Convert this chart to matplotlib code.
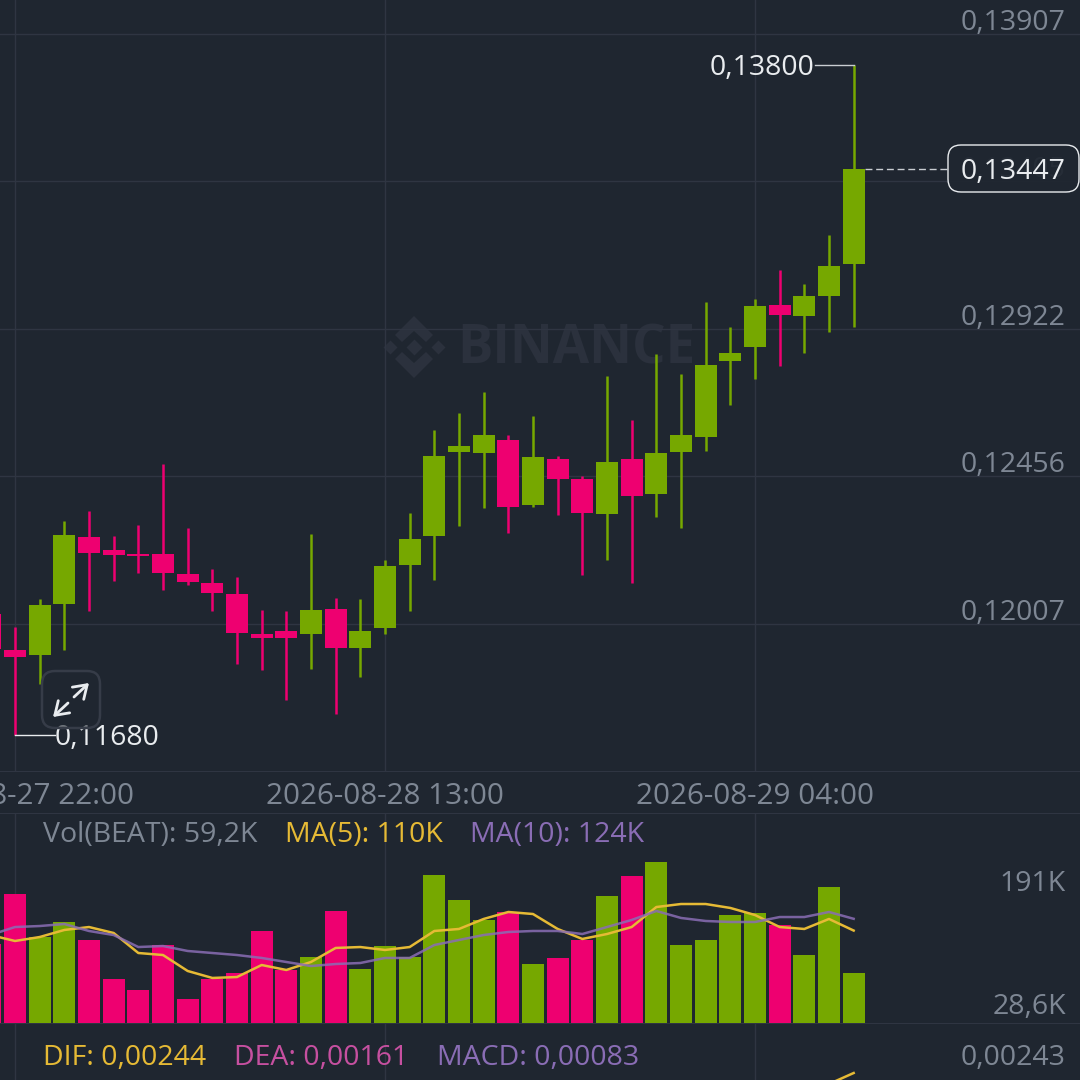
import numpy as np
import matplotlib
matplotlib.use("Agg")
import matplotlib.pyplot as plt
from matplotlib.patches import FancyBboxPatch

plt.rcParams['font.family'] = ['Open Sans', 'DejaVu Sans']

# hourly candles, index 0 is 2026-08-27 22:00 (first one is cut off by the left edge)
hours = np.arange(-1, 35)
open_ = [.12037, .11929, .11914, .12067, .12268, .12231, .12216, .12216, .12158, .12131, .12097, .11977, .11986,
         .11977, .12052, .11935, .11995, .12185, .12271, .12531, .12528, .12569, .12366, .12509, .12447, .12339,
         .12509, .12400, .12531, .12578, .12820, .12865, .13000, .12964, .13029, .13131]
high = [.12037, .11998, .12082, .12317, .12348, .12271, .12305, .12494, .12296, .12173, .12149, .12049, .12046,
        .12277, .12085, .12082, .12200, .12342, .12600, .12654, .12721, .12584, .12644, .12518, .12456, .12772,
        .12632, .12842, .12778, .13009, .12929, .13019, .13114, .13068, .13226, .13800]
low = [.11932, .11680, .11828, .11929, .12046, .12137, .12161, .12109, .12125, .12046, .11888, .11870, .11781,
       .11873, .11740, .11849, .11977, .12046, .12140, .12304, .12357, .12283, .12360, .12336, .12155, .12198,
       .12131, .12330, .12296, .12534, .12679, .12762, .12804, .12845, .12913, .12929]
close = [.11932, .11908, .12064, .12274, .12219, .12213, .12210, .12161, .12134, .12100, .11980, .11965, .11965,
         .12049, .11935, .11986, .12182, .12262, .12518, .12550, .12584, .12360, .12515, .12447, .12342, .12500,
         .12394, .12528, .12584, .12807, .12845, .12996, .12965, .13029, .13124, .13447]

# volume in thousands
volume = [94.0, 153.5, 102.3, 120.2, 98.8, 52.4, 39.3, 92.8, 28.6, 52.4, 59.5, 109.5, 63.1, 78.5, 133.3, 64.3,
          91.6, 78.5, 176.1, 146.4, 122.6, 132.1, 70.2, 77.4, 98.8, 151.1, 174.9, 191.0, 92.8, 98.8, 128.5, 130.9,
          116.6, 80.9, 161.8, 59.2]
ma5 = [104.7, 97.6, 102.3, 110.7, 114.2, 107.1, 83.3, 80.9, 61.9, 53.6, 54.7, 69.0, 63.1, 72.6, 89.3, 90.4, 86.9,
       90.4, 109.5, 111.9, 123.8, 132.1, 129.7, 111.9, 100.0, 105.9, 114.2, 138.0, 141.6, 141.6, 136.9, 128.5,
       114.2, 111.9, 123.8, 110.0]
ma10 = [104.7, 114.2, 115.4, 117.8, 109.5, 104.7, 90.4, 91.6, 85.7, 83.3, 80.9, 77.4, 72.6, 67.8, 70.2, 71.4, 77.4,
        77.4, 92.8, 98.8, 104.7, 108.3, 109.5, 109.5, 105.9, 114.2, 122.6, 133.3, 125.0, 121.4, 120.2, 120.2,
        126.1, 126.1, 132.1, 124.0]

# only the last bit of the DIF line is on screen
dif_hours = [33, 34]
dif = [.00233, .00244]

price_ticks = [.13907, .13405, .12922, .12456, .12007]
price_labels = ['0,13907', '0,13405', '0,12922', '0,12456', '0,12007']
time_ticks = [0, 15, 30]
time_labels = ['2026-08-27 22:00', '2026-08-28 13:00', '2026-08-29 04:00']

BG = '#1F2630'
GRID = '#2F3542'
WATERMARK = '#2B313D'
UP = '#76A800'
DOWN = '#EE0070'
YELLOW = '#E6BA35'
PURPLE = '#8A6DB5'
MAGENTA = '#C650A0'
GRAY = '#7E8794'
WHITE = '#E9ECEF'
FONT = 20.5

STEP = 370 / 15  # px per candle
x_lim = (-15 / STEP, (1080 - 15) / STEP)
x = np.array(hours)
up = np.array(close) >= np.array(open_)
colors = [UP if u else DOWN for u in up]

fig = plt.figure(figsize=(10.8, 10.8), dpi=100, facecolor=BG)

# background layer for the watermark
bg = fig.add_axes([0, 0, 1, 1], zorder=0)
bg.set_xlim(0, 1080)
bg.set_ylim(1080, 0)
bg.axis('off')
bg.text(457, 350, 'BINANCE', color=WATERMARK, fontsize=38, fontweight='bold', ha='left', va='center')
# logo: three diamonds and two chevrons
bg.scatter([414], [347], marker='D', s=66, color=WATERMARK, lw=0)
bg.scatter([390, 438], [347, 347], marker='D', s=51, color=WATERMARK, lw=0)
bg.fill([414, 433, 426, 414, 402, 395], [316, 335, 342, 331, 342, 335], color=WATERMARK, lw=0)
bg.fill([414, 433, 426, 414, 402, 395], [378, 359, 352, 363, 352, 359], color=WATERMARK, lw=0)

# main candle panel, log scale
ax = fig.add_axes([0, 1 - 771 / 1080, 1, 771 / 1080], zorder=1, facecolor='none')
ax.set_yscale('log')
ax.set_xlim(x_lim)
ax.set_ylim(.11575, .14024)
ax.vlines(x, low, high, colors=colors, lw=1.8, zorder=3)
ax.bar(x, np.abs(np.array(close) - np.array(open_)), bottom=np.minimum(open_, close), width=0.89, color=colors,
       zorder=4)
ax.set_yticks(price_ticks)
ax.minorticks_off()
ax.set_yticklabels([])
ax.set_xticks(time_ticks)
ax.set_xticklabels(time_labels, color=GRAY, fontsize=21.3)
ax.tick_params(length=0, pad=8)
ax.grid(True, color=GRID, lw=1, zorder=0)
for s in ax.spines.values():
    s.set_visible(False)
ax.spines['bottom'].set_visible(True)
ax.spines['bottom'].set_color(GRID)
for p, lab in zip(price_ticks, price_labels):
    ax.annotate(lab, (1, p), xycoords=('axes fraction', 'data'), xytext=(-14, 11), textcoords='offset pixels',
                color=GRAY, fontsize=FONT, ha='right', va='center')

# high / low / last price markers
i_hi = int(np.argmax(high))
i_lo = int(np.argmin(low))
ax.plot([x[i_hi] - 39 / STEP, x[i_hi]], [high[i_hi], high[i_hi]], color='#C9CDD2', lw=1, zorder=5)
ax.annotate('0,13800', (x[i_hi] - 39 / STEP, high[i_hi]), xytext=(0, -3), textcoords='offset pixels', color=WHITE,
            fontsize=FONT, ha='right', va='center')
ax.plot([x[i_lo], x[i_lo] + 40 / STEP], [low[i_lo], low[i_lo]], color=WHITE, lw=1, zorder=5)
ax.annotate('0,11680', (x[i_lo] + 40 / STEP, low[i_lo]), xytext=(0, -3), textcoords='offset pixels', color=WHITE,
            fontsize=FONT, ha='left', va='center')
ax.plot([x[-1] + 11 / STEP, x[-1] + 93 / STEP], [close[-1], close[-1]], color='#C9CDD2', lw=1, ls=(0, (5, 2.7)),
        zorder=5)

# volume panel
ax_v = fig.add_axes([0, 57 / 1080, 1, 210 / 1080], zorder=1, facecolor='none')
ax_v.set_xlim(x_lim)
ax_v.set_ylim(0, 249.9)
ax_v.bar(x, volume, width=0.89, color=colors, zorder=3)
ax_v.plot(x, ma5, color=YELLOW, lw=1.8, zorder=4)
ax_v.plot(x, ma10, color=PURPLE, lw=1.8, alpha=0.85, zorder=5)
ax_v.set_xticks(time_ticks)
ax_v.set_xticklabels([])
ax_v.set_yticks([])
ax_v.tick_params(length=0)
ax_v.grid(True, axis='x', color=GRID, lw=1, zorder=0)
for s in ax_v.spines.values():
    s.set_visible(False)
ax_v.spines['top'].set_visible(True)
ax_v.spines['top'].set_color(GRID)
ax_v.spines['bottom'].set_visible(True)
ax_v.spines['bottom'].set_color(GRID)

# MACD panel, only the header and the line tip fit
ax_m = fig.add_axes([0, 0, 1, 57 / 1080], zorder=1, facecolor='none')
ax_m.set_xlim(x_lim)
ax_m.set_ylim(.00237, .00294)
ax_m.plot(dif_hours, dif, color=YELLOW, lw=1.8)
ax_m.set_xticks(time_ticks)
ax_m.set_xticklabels([])
ax_m.set_yticks([])
ax_m.tick_params(length=0)
ax_m.grid(True, axis='x', color=GRID, lw=1)
for s in ax_m.spines.values():
    s.set_visible(False)

# overlay in pixel coordinates for the text and the button
top = fig.add_axes([0, 0, 1, 1], zorder=2, facecolor='none')
top.set_xlim(0, 1080)
top.set_ylim(1080, 0)
top.axis('off')


def label(px, py, s, color, ha='left'):
    top.text(px, py + 2, s, color=color, fontsize=FONT, ha=ha, va='center')


label(43, 833, 'Vol(BEAT): 59,2K', GRAY)
label(285, 833, 'MA(5): 110K', YELLOW)
label(470, 833, 'MA(10): 124K', PURPLE)
label(43, 1056, 'DIF: 0,00244', YELLOW)
label(234, 1056, 'DEA: 0,00161', MAGENTA)
label(437, 1056, 'MACD: 0,00083', PURPLE)
label(1066, 882, '191K', GRAY, ha='right')
label(1066, 1005, '28,6K', GRAY, ha='right')
label(1066, 1056, '0,00243', GRAY, ha='right')

# last price box, the axis label shows through a little
top.add_patch(FancyBboxPatch((948, 145), 131, 47, boxstyle='round,pad=0,rounding_size=13', fc=(0.122, 0.149, 0.188, 0.93),
                             ec=WHITE, lw=1))
label(1066, 170, '0,13447', WHITE, ha='right')

# fullscreen button
top.add_patch(FancyBboxPatch((42, 671), 58, 57, boxstyle='round,pad=0,rounding_size=13', fc=(0.12, 0.15, 0.19, 0.6),
                             ec='#363C48', lw=1.8))
arrow = dict(arrowstyle='->,head_length=0.45,head_width=0.3', color=WHITE, lw=2, mutation_scale=20, shrinkA=0, shrinkB=0)
top.annotate('', xy=(89, 683), xytext=(74, 697), arrowprops=arrow)
top.annotate('', xy=(53, 717), xytext=(68, 703), arrowprops=arrow)

fig.savefig('out.png', dpi=100, facecolor=BG)
